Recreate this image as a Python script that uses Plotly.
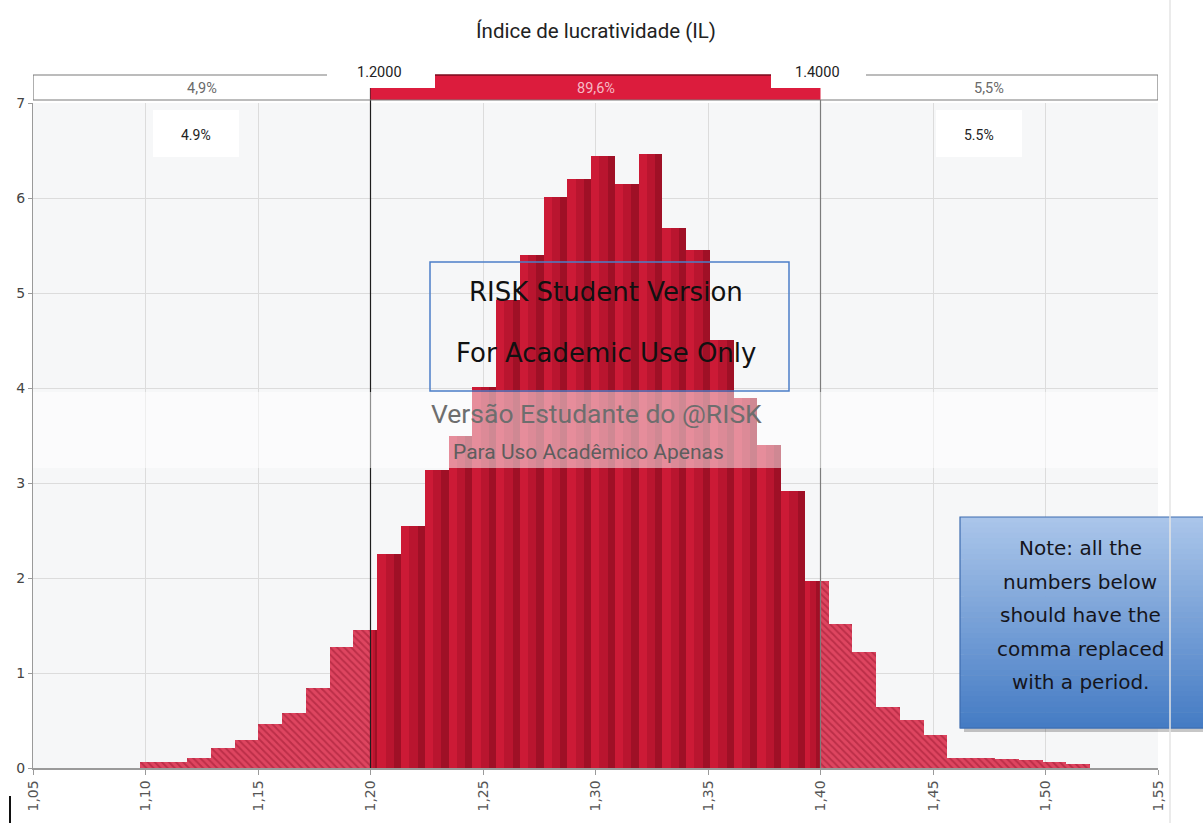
import plotly.graph_objects as go

# ---- figure geometry (pixels) ----
W, H = 1203, 823
M_L, M_R, M_T, M_B = 33, 45, 103, 55
PW, PH = W - M_L - M_R, H - M_T - M_B

# ---- simulated distribution of the profitability index (density, 40 bins) ----
bin_start = 1.0974
bin_width = 0.01056
density = [0.06, 0.06, 0.11, 0.21, 0.29, 0.46, 0.58, 0.84, 1.27, 1.45,
           2.25, 2.55, 3.14, 3.49, 4.01, 4.93, 5.40, 6.01, 6.20, 6.44,
           6.15, 6.46, 5.68, 5.45, 4.51, 3.89, 3.40, 2.92, 1.97, 1.52,
           1.22, 0.64, 0.51, 0.35, 0.11, 0.11, 0.09, 0.08, 0.06, 0.04]

lower_limit = 1.20
upper_limit = 1.40
pct_below = 4.9
pct_between = 89.6
pct_above = 5.5

x_ticks = [1.05, 1.10, 1.15, 1.20, 1.25, 1.30, 1.35, 1.40, 1.45, 1.50, 1.55]
y_ticks = [0, 1, 2, 3, 4, 5, 6, 7]

title_text = "Índice de lucratividade (IL)"
note_lines = ["Note: all the", "numbers below", "should have the",
              "comma replaced", "with a period."]

FONT = "Tahoma, 'DejaVu Sans', sans-serif"
NARROW = "Roboto, 'Liberation Sans', sans-serif"


def px_x(p):
    return (p - M_L) / PW


def px_y(p):
    return (H - M_B - p) / PH


def comma(v):
    return f"{v:.1f}".replace(".", ",") + "%"


def label(x, y, text, size, color, family=FONT, xref="paper"):
    return dict(x=x, y=y, xref=xref, yref="paper", text=text, showarrow=False,
                xanchor="center", yanchor="middle",
                font=dict(family=family, size=size, color=color))


# split each bin into the part outside and inside the [lower, upper] window
out_x, out_w, out_y = [], [], []
in_x, in_w, in_y = [], [], []
for i, d in enumerate(density):
    left = bin_start + i * bin_width
    right = left + bin_width
    if left < lower_limit:
        r = min(right, lower_limit)
        out_x.append(left); out_w.append(r - left); out_y.append(d)
    a, b = max(left, lower_limit), min(right, upper_limit)
    if b > a:
        in_x.append(a); in_w.append(b - a); in_y.append(d)
    if right > upper_limit:
        l = max(left, upper_limit)
        out_x.append(l); out_w.append(right - l); out_y.append(d)

fig = go.Figure()

# hatched bars outside the limits
fig.add_trace(go.Bar(
    x=out_x, y=out_y, width=out_w, offset=0,
    marker=dict(color="#d93550", line=dict(width=0),
                pattern=dict(shape="\\", fgcolor="#9a1830", bgcolor="#de4560",
                             size=5, solidity=0.4)),
    hoverinfo="skip", showlegend=False))

# solid bars between the limits, with a darker right side for shading
fig.add_trace(go.Bar(
    x=in_x, y=in_y, width=in_w, offset=0,
    marker=dict(color="#cc1a36", line=dict(width=0)),
    hoverinfo="skip", showlegend=False))
fig.add_trace(go.Bar(
    x=[x + w * 0.35 for x, w in zip(in_x, in_w)], y=in_y,
    width=[w * 0.65 for w in in_w], offset=0,
    marker=dict(color="rgba(90,0,15,0.16)", line=dict(width=0)),
    hoverinfo="skip", showlegend=False))
fig.add_trace(go.Bar(
    x=[x + w * 0.7 for x, w in zip(in_x, in_w)], y=in_y,
    width=[w * 0.3 for w in in_w], offset=0,
    marker=dict(color="rgba(70,0,10,0.22)", line=dict(width=0)),
    hoverinfo="skip", showlegend=False))

shapes = []
annotations = []

# delimiter lines
shapes.append(dict(type="line", xref="x", yref="paper", x0=lower_limit, x1=lower_limit,
                   y0=0, y1=px_y(88), line=dict(color="#1e1e1e", width=1.2), layer="above"))
shapes.append(dict(type="line", xref="x", yref="paper", x0=upper_limit, x1=upper_limit,
                   y0=0, y1=px_y(100), line=dict(color="#7c7c7c", width=1.2), layer="above"))

# probability band above the plot
x_lo, x_hi = x_ticks[0], x_ticks[-1]
band_line = dict(color="#7a7a7a", width=1.2)
shapes.append(dict(type="rect", xref="x", yref="paper", x0=lower_limit, x1=upper_limit,
                   y0=px_y(100), y1=px_y(88), fillcolor="#dc1c3d", line=dict(width=0)))
shapes.append(dict(type="rect", xref="paper", yref="paper", x0=px_x(435), x1=px_x(771),
                   y0=px_y(88), y1=px_y(75), fillcolor="#dc1c3d", line=dict(width=0)))
shapes.append(dict(type="line", xref="paper", yref="paper", x0=px_x(435), x1=px_x(771),
                   y0=px_y(75), y1=px_y(75), line=dict(color="#7a0a1c", width=1.5)))
shapes.append(dict(type="line", xref="x", yref="paper", x0=x_lo, x1=x_hi,
                   y0=px_y(100), y1=px_y(100), line=band_line))
shapes.append(dict(type="line", xref="x", yref="paper", x0=x_lo, x1=x_lo,
                   y0=px_y(100), y1=px_y(75), line=band_line))
shapes.append(dict(type="line", xref="x", yref="paper", x0=x_hi, x1=x_hi,
                   y0=px_y(100), y1=px_y(75), line=band_line))
shapes.append(dict(type="line", xref="paper", yref="paper", x0=0, x1=px_x(327),
                   y0=px_y(75), y1=px_y(75), line=band_line))
shapes.append(dict(type="line", xref="paper", yref="paper", x0=px_x(866), x1=1,
                   y0=px_y(75), y1=px_y(75), line=band_line))

annotations += [
    label((x_lo + lower_limit) / 2, px_y(88), comma(pct_below), 14.5, "#6a6a6a", NARROW, "x"),
    label((lower_limit + upper_limit) / 2, px_y(88), comma(pct_between), 14.5, "#f6b9c5",
          NARROW, "x"),
    label((upper_limit + x_hi) / 2, px_y(88), comma(pct_above), 14.5, "#6a6a6a", NARROW, "x"),
    label(px_x(379), px_y(73), f"{lower_limit:.4f}", 14.5, "#222", NARROW),
    label(px_x(817), px_y(73), f"{upper_limit:.4f}", 14.5, "#222", NARROW),
]

# white probability labels inside the plot
for cx, val in ((196, pct_below), (979, pct_above)):
    shapes.append(dict(type="rect", xref="paper", yref="paper", x0=px_x(cx - 43), x1=px_x(cx + 43),
                       y0=px_y(157), y1=px_y(110), fillcolor="white", line=dict(width=0),
                       layer="above"))
    annotations.append(label(px_x(cx), px_y(135), f"{val:.1f}%", 14, "#222", NARROW))

# student-version watermark
shapes.append(dict(type="rect", xref="paper", yref="paper", x0=0, x1=1,
                   y0=px_y(468), y1=px_y(392), fillcolor="rgba(255,255,255,0.5)",
                   line=dict(width=0), layer="above"))
shapes.append(dict(type="rect", xref="paper", yref="paper", x0=px_x(430), x1=px_x(789),
                   y0=px_y(391), y1=px_y(262), fillcolor="rgba(0,0,0,0)",
                   line=dict(color="#4c7fc7", width=1.5), layer="above"))
annotations += [
    label(px_x(606), px_y(292), "RISK Student Version", 26, "#111"),
    label(px_x(606), px_y(353), "For Academic Use Only", 26, "#111"),
    label(px_x(596), px_y(413), "Versão Estudante do @RISK", 26.5, "#6e6e6e", NARROW),
    label(px_x(588), px_y(452), "Para Uso Acadêmico Apenas", 21, "#5e5e5e", NARROW),
]

# note box with a vertical blue gradient
nx0, nx1, ny0, ny1 = 960, 1215, 517, 728
shapes.append(dict(type="rect", xref="paper", yref="paper", x0=px_x(nx0 + 4), x1=px_x(nx1 + 4),
                   y0=px_y(ny1 + 4), y1=px_y(ny0 + 4), fillcolor="rgba(0,0,0,0.22)",
                   line=dict(width=0), layer="above"))
top_c, bot_c = (171, 198, 234), (68, 123, 196)
n_strips = 40
for k in range(n_strips):
    t = (k + 0.5) / n_strips
    c = tuple(int(round(top_c[j] + (bot_c[j] - top_c[j]) * t)) for j in range(3))
    y_a = ny0 + (ny1 - ny0) * k / n_strips
    y_b = ny0 + (ny1 - ny0) * (k + 1) / n_strips + 0.6
    shapes.append(dict(type="rect", xref="paper", yref="paper", x0=px_x(nx0), x1=px_x(nx1),
                       y0=px_y(y_b), y1=px_y(y_a), fillcolor=f"rgb{c}",
                       line=dict(width=0), layer="above"))
shapes.append(dict(type="rect", xref="paper", yref="paper", x0=px_x(nx0), x1=px_x(nx1),
                   y0=px_y(ny1), y1=px_y(ny0), fillcolor="rgba(0,0,0,0)",
                   line=dict(color="#3c6cb0", width=1.2), layer="above"))
for k, line in enumerate(note_lines):
    annotations.append(label(px_x(1080), px_y(548 + k * 33.5), line, 20, "#15151c"))

# title
annotations.append(label(px_x(596), px_y(31), title_text, 20.5, "#222", NARROW))

# window border and cursor mark
shapes.append(dict(type="line", xref="paper", yref="paper", x0=px_x(1170), x1=px_x(1170),
                   y0=px_y(823), y1=px_y(0), line=dict(color="#e4e4e4", width=1.5)))
shapes.append(dict(type="line", xref="paper", yref="paper", x0=px_x(10), x1=px_x(10),
                   y0=px_y(823), y1=px_y(796), line=dict(color="#111", width=2)))

fig.update_layout(
    width=W, height=H,
    margin=dict(l=M_L, r=M_R, t=M_T, b=M_B, pad=0),
    barmode="overlay", bargap=0,
    separators=",.",
    paper_bgcolor="white", plot_bgcolor="#f6f7f8",
    shapes=shapes, annotations=annotations,
    xaxis=dict(range=[x_lo, x_hi], tickvals=x_ticks, tickformat=".2f", tickangle=-90,
               showgrid=True, gridcolor="#dcdcdc", gridwidth=1,
               showline=True, linecolor="#9a9a9a", linewidth=1.5,
               ticks="outside", ticklen=5, tickcolor="#9a9a9a", zeroline=False,
               tickfont=dict(family=FONT, size=14, color="#555")),
    yaxis=dict(range=[0, 7], tickvals=y_ticks, showgrid=True, gridcolor="#dcdcdc",
               showline=True, linecolor="#9a9a9a", linewidth=1.2,
               ticks="outside", ticklen=4, tickcolor="#9a9a9a", zeroline=False,
               tickfont=dict(family=FONT, size=14, color="#444")),
)

fig.write_html("out.html")
